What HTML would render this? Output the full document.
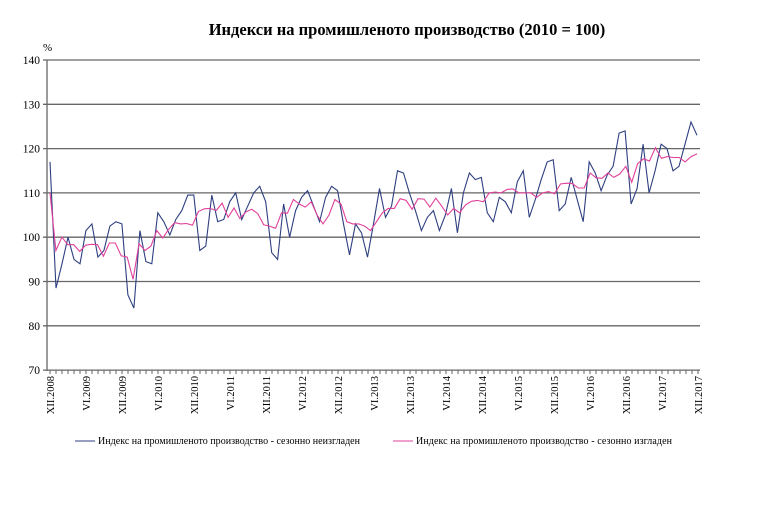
<!DOCTYPE html>
<html><head><meta charset="utf-8"><style>
html,body{margin:0;padding:0;background:#fff;}
svg{display:block;font-family:"Liberation Serif",serif;}
</style></head><body>
<svg id="c" width="768" height="517" xmlns="http://www.w3.org/2000/svg">
<text x="407" y="35" text-anchor="middle" font-size="16.5" font-weight="bold">Индекси на промишленото производство (2010 = 100)</text>
<text x="43" y="51" font-size="11">%</text>
<g id="grid" stroke="#666" stroke-width="1.3"></g>
<g id="yl" font-size="11.5" text-anchor="end"></g>
<g id="xl" font-size="10.5"></g>
<polyline id="b" fill="none" stroke="#2e3f80" stroke-width="1.1"/>
<polyline id="p" fill="none" stroke="#e0409a" stroke-width="1.1"/>
<line x1="75" y1="441" x2="95" y2="441" stroke="#2e3f80"/>
<text x="98" y="444" font-size="10" textLength="262">Индекс  на промишленото  производство  - сезонно  неизгладен</text>
<line x1="393" y1="441" x2="413" y2="441" stroke="#e0409a"/>
<text x="416" y="444" font-size="10" textLength="256">Индекс  на промишленото  производство  - сезонно изгладен</text>
</svg>
<script>
var Y=function(v){return 60+(140-v)*4.43;};
var g=document.getElementById('grid'),yl=document.getElementById('yl'),xl=document.getElementById('xl');
var ns='http://www.w3.org/2000/svg';
function el(p,t,a,txt){var e=document.createElementNS(ns,t);for(var k in a)e.setAttribute(k,a[k]);if(txt)e.textContent=txt;p.appendChild(e);return e;}
for(var v=70;v<=140;v+=10){var y=Y(v);el(g,'line',{x1:43,x2:700,y1:y,y2:y});el(yl,'text',{x:40,y:y+4},String(v));}
el(g,'line',{x1:47,x2:47,y1:60,y2:371});
for(var i=0;i<=108;i++){var x=50+i*6;el(g,'line',{x1:x,x2:x,y1:370,y2:374,'stroke-width':1});}
var labs=['XII.2008','VI.2009','XII.2009','VI.2010','XII.2010','VI.2011','XII.2011','VI.2012','XII.2012','VI.2013','XII.2013','VI.2014','XII.2014','VI.2015','XII.2015','VI.2016','XII.2016','VI.2017','XII.2017'];
labs.forEach(function(l,i){var x=54+i*36;el(xl,'text',{x:0,y:0,transform:'translate('+x+',376) rotate(-90)','text-anchor':'end'},l);});
var B=[117,88.5,94,100,95,94,101.5,103,95.5,97,102.5,103.5,103,87,84,101.5,94.5,94,105.5,103.5,100.5,104,106,109.5,109.5,97,98,109.5,103.5,104,108,110,104,107,110,111.5,108,96.5,95,107.5,100,106,109,110.5,107,103.5,109,111.5,110.5,103,96,103,101,95.5,103,111,104.5,107,115,114.5,110,106,101.5,104.5,106,101.5,105,111,101,110,114.5,113,113.5,105.5,103.5,109,108,105.5,112.5,115,104.5,108.5,113,117,117.5,106,107.5,113.5,108.5,103.5,117,114.5,110.5,114,116,123.5,124,107.5,111,121,110,115,121,120,115,116,121,126,123];
var P=[110,97,100,98.3,98.3,96.8,98.2,98.4,98.3,95.7,98.7,98.7,95.8,95.5,90.5,98.5,97,98,101.5,99.8,101.8,103.3,103,103.1,102.7,105.8,106.4,106.5,106,107.7,104.5,106.6,104.2,105.7,106.3,105.3,102.8,102.5,102,105.5,105.4,108.5,107.5,106.8,108,105,103,105,108.5,107.5,103.5,103,103,102.5,101.5,103.5,105.5,106.5,106.5,108.7,108.3,106.3,108.7,108.6,106.8,108.8,107,105,106.5,105.5,107.3,108.1,108.3,108,110,110.2,110,110.8,110.9,110,110,110,109,110,110.3,109.8,112,112.2,112.1,111.1,111.1,114.5,113.4,113.3,114.5,113.5,114.3,116,112.4,116.6,117.7,117.2,120.2,117.8,118.2,118,118,117,118.2,118.8];
function pts(a){var n=a.length;return a.map(function(v,i){return (50+i*647/(n-1)).toFixed(1)+','+Y(v).toFixed(1);}).join(' ');}
document.getElementById('b').setAttribute('points',pts(B));
document.getElementById('p').setAttribute('points',pts(P));
</script>
</body></html>
